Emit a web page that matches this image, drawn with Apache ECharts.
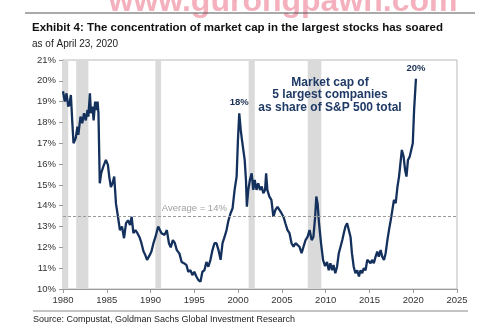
<!DOCTYPE html>
<html><head><meta charset="utf-8">
<script src="https://cdn.jsdelivr.net/npm/echarts@6/dist/echarts.min.js"></script>
<style>html,body{margin:0;padding:0;background:#fff}#c{width:499px;height:334px}</style>
</head><body><div id="c"></div>
<script>
const years = [1980.0,1980.1,1980.2,1980.4,1980.6,1980.75,1980.9,1981.05,1981.2,1981.45,1981.65,1981.75,1982.0,1982.2,1982.4,1982.6,1982.8,1982.9,1983.07,1983.2,1983.36,1983.5,1983.67,1983.8,1983.95,1984.05,1984.2,1984.36,1984.6,1984.9,1985.13,1985.28,1985.47,1985.66,1985.85,1986.05,1986.28,1986.5,1986.74,1986.97,1987.2,1987.43,1987.66,1987.84,1988.04,1988.27,1988.5,1988.73,1988.96,1989.2,1989.4,1989.6,1989.87,1990.1,1990.33,1990.56,1990.87,1991.25,1991.6,1991.86,1992.1,1992.3,1992.55,1992.78,1993.0,1993.3,1993.55,1993.86,1994.1,1994.3,1994.55,1994.78,1995.0,1995.23,1995.46,1995.7,1995.92,1996.15,1996.38,1996.6,1996.84,1997.07,1997.3,1997.53,1997.76,1998.0,1998.22,1998.45,1998.68,1998.9,1999.14,1999.37,1999.6,1999.83,1999.98,2000.13,2000.3,2000.44,2000.6,2000.75,2000.9,2001.0,2001.16,2001.35,2001.55,2001.73,2001.9,2002.1,2002.3,2002.5,2002.7,2002.88,2003.08,2003.2,2003.34,2003.57,2003.8,2004.03,2004.26,2004.5,2004.7,2004.95,2005.18,2005.4,2005.64,2005.87,2006.1,2006.33,2006.56,2006.78,2007.0,2007.25,2007.47,2007.7,2007.93,2008.16,2008.4,2008.6,2008.8,2008.93,2009.08,2009.24,2009.47,2009.7,2009.93,2010.16,2010.35,2010.54,2010.73,2010.9,2011.1,2011.3,2011.5,2011.7,2011.9,2012.07,2012.26,2012.45,2012.65,2012.84,2013.0,2013.2,2013.4,2013.6,2013.8,2013.98,2014.17,2014.36,2014.56,2014.75,2014.94,2015.13,2015.3,2015.5,2015.7,2015.9,2016.07,2016.28,2016.46,2016.66,2016.85,2017.05,2017.23,2017.43,2017.62,2017.8,2018.0,2018.2,2018.38,2018.58,2018.7,2018.9,2019.07,2019.23,2019.4,2019.6,2019.8,2019.95,2020.1,2020.31];
const share = [19.5,19.56,19.0,19.4,18.76,18.9,19.32,18.1,17.0,17.24,17.8,17.4,18.28,17.96,18.44,18.1,18.6,18.28,19.4,18.44,18.76,18.1,19.0,18.6,19.0,18.44,15.08,15.56,15.88,16.2,15.96,15.4,14.9,15.08,15.4,14.1,13.47,12.83,13.0,12.44,13.16,13.3,13.07,13.47,12.68,12.83,12.68,12.5,12.2,11.8,11.63,11.4,11.6,11.8,12.2,12.5,13.0,12.68,12.6,12.83,12.2,12.0,12.35,12.2,11.87,11.7,11.3,11.23,11.15,10.83,10.9,10.67,10.83,10.6,10.43,10.35,10.83,10.9,11.3,11.07,11.4,11.87,12.2,12.2,11.87,11.4,12.2,12.5,12.83,13.3,13.64,13.88,14.76,15.4,17.16,18.44,17.64,17.16,17.2,16.2,15.2,13.95,14.76,15.24,15.56,14.76,15.24,14.76,15.08,14.76,14.92,14.6,14.76,15.56,14.76,14.44,14.28,13.47,13.8,13.95,14.03,13.64,13.47,13.16,12.83,12.68,12.2,12.03,12.2,12.27,12.03,11.72,12.03,12.35,12.5,12.83,12.35,12.5,13.47,14.44,14.1,13.16,12.2,11.4,11.1,11.3,10.9,11.24,10.9,11.15,10.76,11.07,11.72,12.03,12.35,12.68,13.0,13.16,13.24,12.5,11.72,11.07,10.76,10.9,10.6,10.9,10.76,11.0,10.9,11.4,11.48,11.24,11.4,11.24,11.55,11.8,11.55,11.87,11.55,11.4,11.72,12.35,12.83,13.3,13.8,14.28,14.12,14.92,15.4,16.2,16.68,16.36,15.72,15.4,16.2,16.36,16.44,17.0,18.6,20.1];
const recessionStart = [1980.0, 1981.5, 1990.55, 2001.2, 2007.95];
const recessionEnd = [1980.6, 1982.9, 1991.2, 2001.9, 2009.5];
const averageValue = 13.5;
const averageLabel = 'Average = 14%';
const peakLabels = [{year: 2000.13, value: 18.44, text: '18%'}, {year: 2020.31, value: 20.1, text: '20%'}];
const titleText = 'Exhibit 4: The concentration of market cap in the largest stocks has soared';
const subtitleText = 'as of April 23, 2020';
const sourceText = 'Source: Compustat, Goldman Sachs Global Investment Research';
const annotationText = 'Market cap of\n5 largest companies\nas share of S&P 500 total';

const FONT = "'Liberation Sans', Arial, sans-serif";
const chart = echarts.init(document.getElementById('c'), null, {renderer: 'canvas'});
const lineData = years.map((y, i) => [y, share[i]]);
const areas = recessionStart.map((s, i) => [{xAxis: s}, {xAxis: recessionEnd[i]}]);

chart.setOption({
  animation: false,
  backgroundColor: '#fff',
  textStyle: {fontFamily: FONT},
  grid: {left: 63, right: 42, top: 60, bottom: 45, show: true, borderColor: '#b8b8b8', borderWidth: 1},
  title: [
    {text: titleText, left: 27, top: 17, textStyle: {fontSize: 11.5, fontWeight: 'bold', color: '#111', fontFamily: FONT}},
    {text: subtitleText, left: 27, top: 34, textStyle: {fontSize: 10, fontWeight: 'normal', color: '#222', fontFamily: FONT}}
  ],
  xAxis: {
    type: 'value', min: 1980, max: 2025, interval: 5,
    axisLine: {lineStyle: {color: '#9a9a9a'}},
    axisTick: {show: true, inside: false, length: 4, lineStyle: {color: '#9a9a9a'}},
    axisLabel: {color: '#333', fontSize: 9.5, fontFamily: FONT, margin: 6, formatter: v => String(v)},
    splitLine: {show: false}
  },
  yAxis: {
    type: 'value', min: 10, max: 21, interval: 1,
    axisLine: {show: true, lineStyle: {color: '#9a9a9a'}},
    axisTick: {show: true, inside: false, length: 4, lineStyle: {color: '#9a9a9a'}},
    axisLabel: {color: '#333', fontSize: 9.5, fontFamily: FONT, margin: 7, formatter: v => v + '%'},
    splitLine: {show: false}
  },
  series: [
    {
      type: 'line', data: lineData, showSymbol: false, symbol: 'none',
      lineStyle: {color: '#14305c', width: 2.3}, z: 3,
      markArea: {silent: true, itemStyle: {color: '#dadada'}, data: areas, z: 1},
      markLine: {
        silent: true, symbol: 'none',
        lineStyle: {color: '#9a9a9a', type: [3, 2], width: 1},
        label: {show: false},
        data: [{yAxis: averageValue}]
      },
      markPoint: {
        silent: true, symbol: 'circle', symbolSize: 1,
        itemStyle: {color: 'rgba(0,0,0,0)'},
        data: [
          {coord: [1995.0, averageValue], label: {show: true, formatter: averageLabel, color: '#a0a0a0', fontSize: 9.5, fontFamily: FONT, position: 'top', distance: 2}},
          ...peakLabels.map(p => ({coord: [p.year, p.value], label: {show: true, formatter: p.text, color: '#1a2f52', fontSize: 9.5, fontWeight: 'bold', fontFamily: FONT, position: 'top', distance: 5}}))
        ]
      }
    }
  ],
  graphic: [
    {type: 'text', x: 283, y: -14, z: 0, style: {text: 'www.gurongpawn.com', fill: '#f4b0bd', font: 'bold 32px ' + FONT, align: 'center'}},
    {type: 'line', shape: {x1: 25, y1: 13, x2: 475, y2: 13}, style: {stroke: '#555', lineWidth: 1}},
    {type: 'text', x: 330, y: 76, z: 10, style: {text: annotationText, fill: '#1f3a66', font: 'bold 12px ' + FONT, align: 'center', lineHeight: 12.5}},
    {type: 'line', shape: {x1: 33, y1: 311, x2: 468, y2: 311}, style: {stroke: '#888', lineWidth: 1}},
    {type: 'text', x: 33, y: 315, style: {text: sourceText, fill: '#222', font: '9px ' + FONT}}
  ]
});
</script></body></html>
